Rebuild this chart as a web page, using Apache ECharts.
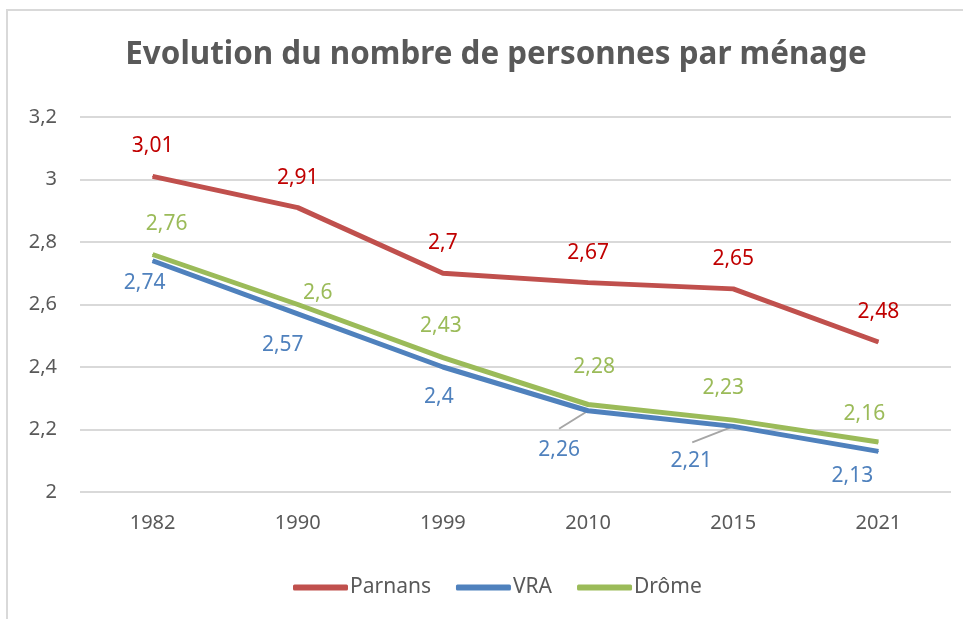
<!DOCTYPE html>
<html>
<head>
<meta charset="utf-8">
<script src="https://cdn.jsdelivr.net/npm/echarts@6/dist/echarts.min.js"></script>
<style>
html,body{margin:0;padding:0;background:#fff;}
#c{width:963px;height:619px;}
</style>
</head>
<body>
<div id="c"></div>
<script>
const categories = ['1982', '1990', '1999', '2010', '2015', '2021'];
const parnans = [3.01, 2.91, 2.70, 2.67, 2.65, 2.48];
const vra = [2.74, 2.57, 2.40, 2.26, 2.21, 2.13];
const drome = [2.76, 2.60, 2.43, 2.28, 2.23, 2.16];
const seriesNames = ['Parnans', 'VRA', 'Drôme'];
const yTicks = { min: 2, max: 3.2, interval: 0.2 };

const FONT = "'Liberation Sans Narrow', 'Noto Sans', sans-serif";
const fmt = v => String(Math.round(v * 100) / 100).replace('.', ',');

// label style offsets (dx, dy) per point, styling only
const vraLabelShift = [[-8, 0], [-15, 9], [-4, 8], [-29, 17], [-42, 13], [-26, 3]];
const vraLeader = [null, null, null, [-29, 18], [-41, 16], null]; // leader-line pixel offsets
const dromeLabelShift = [[14, -6], [20, 13], [-2, -8], [6, -13], [-10, -8], [-14, -4]];

const chart = echarts.init(document.getElementById('c'), null, { renderer: 'canvas' });

function lbl(color, pos, dist) {
  return {
    show: true, position: pos, distance: dist, color: color,
    fontFamily: FONT, fontSize: 21,
    formatter: p => fmt(p.value)
  };
}

chart.setOption({
  backgroundColor: '#fff',
  animation: false,
  title: {
    text: 'Evolution du nombre de personnes par ménage',
    left: 491, textAlign: 'center', top: 35,
    textStyle: { fontFamily: FONT, fontSize: 31.4, fontWeight: 'bold', color: '#595959' }
  },
  grid: { left: 80, right: 12, top: 117, bottom: 127 },
  legend: {
    bottom: 16, left: 288,
    itemWidth: 55, itemHeight: 6, itemGap: 25,
    icon: 'roundRect',
    textStyle: { fontFamily: FONT, fontSize: 21, color: '#595959', padding: [0, 0, 0, -3] },
    data: seriesNames
  },
  xAxis: {
    type: 'category', data: categories, boundaryGap: true,
    axisLine: { show: false }, axisTick: { show: false },
    axisLabel: { fontFamily: FONT, fontSize: 20, color: '#595959', margin: 21 }
  },
  yAxis: {
    type: 'value', min: yTicks.min, max: yTicks.max, interval: yTicks.interval,
    axisLine: { show: false }, axisTick: { show: false },
    splitLine: { lineStyle: { color: '#D9D9D9', width: 2 } },
    axisLabel: { fontFamily: FONT, fontSize: 20, color: '#595959', margin: 23, formatter: fmt }
  },
  series: [
    {
      name: seriesNames[0], type: 'line', data: parnans,
      symbol: 'circle', symbolSize: 1, showSymbol: true,
      lineStyle: { color: '#C0504D', width: 5 }, itemStyle: { color: '#C0504D' },
      label: lbl('#C00000', 'top', 19), z: 3
    },
    {
      name: 'leaders', type: 'custom', z: 1, silent: true,
      data: vra.map((v, i) => [i, v]),
      renderItem: (params, api) => {
        const off = vraLeader[params.dataIndex];
        if (!off) return null;
        const p = api.coord([api.value(0), api.value(1)]);
        return {
          type: 'line',
          shape: { x1: p[0], y1: p[1], x2: p[0] + off[0], y2: p[1] + off[1] },
          style: { stroke: '#A6A6A6', lineWidth: 2 }
        };
      }
    },
    {
      name: seriesNames[1], type: 'line', data: vra,
      symbol: 'circle', symbolSize: 1, showSymbol: true,
      lineStyle: { color: '#4F81BD', width: 5 }, itemStyle: { color: '#4F81BD' },
      label: lbl('#4F81BD', 'bottom', 11),
      labelLayout: p => ({ dx: vraLabelShift[p.dataIndex][0], dy: vraLabelShift[p.dataIndex][1] }),
      z: 2
    },
    {
      name: seriesNames[2], type: 'line', data: drome,
      symbol: 'circle', symbolSize: 1, showSymbol: true,
      lineStyle: { color: '#9BBB59', width: 5 }, itemStyle: { color: '#9BBB59' },
      label: lbl('#9BBB59', 'top', 13),
      labelLayout: p => ({ dx: dromeLabelShift[p.dataIndex][0], dy: dromeLabelShift[p.dataIndex][1] }),
      z: 4
    }
  ],
  graphic: [
    { type: 'line', shape: { x1: 6, y1: 10, x2: 963, y2: 10 }, style: { stroke: '#D9D9D9', lineWidth: 2 } },
    { type: 'line', shape: { x1: 7, y1: 10, x2: 7, y2: 619 }, style: { stroke: '#D9D9D9', lineWidth: 2 } }
  ]
});
</script>
</body>
</html>
